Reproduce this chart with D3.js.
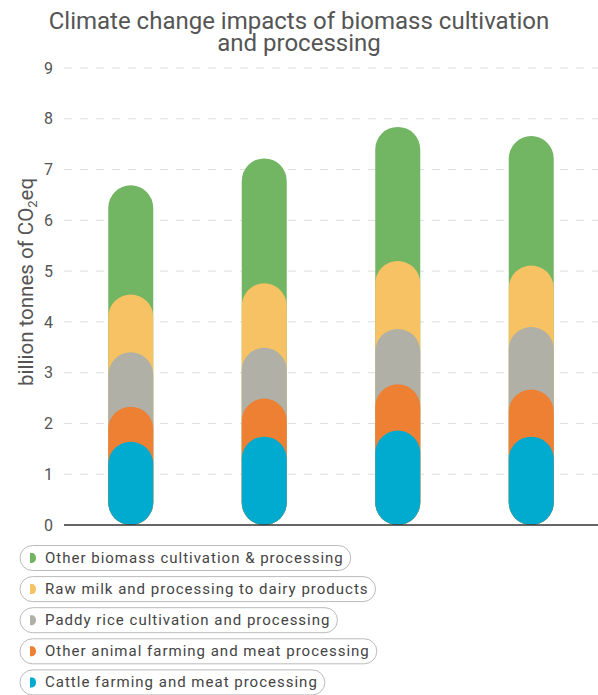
<!DOCTYPE html>
<html>
<head>
<meta charset="utf-8">
<script src="https://cdn.jsdelivr.net/npm/d3@7"></script>
<style>
  body { margin: 0; background: #fff; }
  svg { display: block; font-family: Roboto, "Noto Sans", sans-serif; }
</style>
</head>
<body>
<script>
// chart data
var categories = ["A", "B", "C", "D"];
var seriesNames = [
  "Cattle farming and meat processing",
  "Other animal farming and meat processing",
  "Paddy rice cultivation and processing",
  "Raw milk and processing to dairy products",
  "Other biomass cultivation & processing"
];
var seriesColors = ["#01aacf", "#ed8033", "#b0b0a6", "#f7c263", "#72b563"];
var cattle = [1.64, 1.74, 1.86, 1.74];
var otherAnimal = [0.69, 0.75, 0.91, 0.93];
var paddyRice = [1.07, 1.00, 1.09, 1.23];
var rawMilk = [1.14, 1.27, 1.34, 1.21];
var otherBiomass = [2.15, 2.46, 2.64, 2.55];
var yTicks = [0, 1, 2, 3, 4, 5, 6, 7, 8, 9];

var seriesValues = [cattle, otherAnimal, paddyRice, rawMilk, otherBiomass];

var width = 598, height = 695;
var plotLeft = 64, plotRight = 598, plotTop = 68, plotBottom = 525;
var barWidth = 45;

var svg = d3.select("body").append("svg")
  .attr("width", width)
  .attr("height", height);

// title
var title = svg.append("text")
  .attr("text-anchor", "middle")
  .attr("fill", "#555")
  .attr("font-size", 24);
title.append("tspan").attr("x", width / 2).attr("y", 29).text("Climate change impacts of biomass cultivation");
title.append("tspan").attr("x", width / 2).attr("y", 51).text("and processing");

var y = d3.scaleLinear().domain([0, 9]).range([plotBottom, plotTop]);
var x = d3.scaleBand().domain(categories).range([plotLeft, plotRight]);

// grid
svg.append("g").selectAll("line")
  .data(yTicks.filter(function(d) { return d > 0; }))
  .enter().append("line")
  .attr("x1", plotLeft).attr("x2", plotRight)
  .attr("y1", function(d) { return y(d); })
  .attr("y2", function(d) { return y(d); })
  .attr("stroke", "#dedede")
  .attr("stroke-width", 1)
  .attr("stroke-dasharray", "8,8");

// tick labels
var yAxis = svg.append("g")
  .attr("transform", "translate(" + plotLeft + ",0)")
  .call(d3.axisLeft(y).tickValues(yTicks).tickSize(0).tickPadding(11));
yAxis.select(".domain").remove();
yAxis.selectAll("text")
  .attr("font-family", "Roboto, sans-serif")
  .attr("font-size", 16)
  .attr("fill", "#555");

// stacked pills: each series from 0 to its cumulative top, drawn from top series down
var cum = categories.map(function() { return 0; });
var stacks = seriesValues.map(function(vals, si) {
  var tops = vals.map(function(v, i) { cum[i] += v; return cum[i]; });
  return { color: seriesColors[si], tops: tops };
});

var bars = svg.append("g");
stacks.slice().reverse().forEach(function(s) {
  bars.selectAll(null)
    .data(categories)
    .enter().append("rect")
    .attr("x", function(d) { return x(d) + x.bandwidth() / 2 - barWidth / 2; })
    .attr("width", barWidth)
    .attr("y", function(d, i) { return y(s.tops[i]); })
    .attr("height", function(d, i) { return y(0) - y(s.tops[i]); })
    .attr("rx", barWidth / 2)
    .attr("fill", s.color);
});

// baseline
svg.append("line")
  .attr("x1", plotLeft).attr("x2", plotRight)
  .attr("y1", y(0)).attr("y2", y(0))
  .attr("stroke", "#333")
  .attr("stroke-width", 1.5);

// y label
var yl = svg.append("text")
  .attr("transform", "translate(33,386) rotate(-90)")
  .attr("text-anchor", "start")
  .attr("fill", "#555")
  .attr("font-size", 20.5);
yl.append("tspan").text("billion tonnes of CO");
yl.append("tspan").attr("font-size", 13).attr("dy", 4).text("2");
yl.append("tspan").attr("dy", -4).text("eq");

// legend
var legendOrder = [4, 3, 2, 1, 0];
var legend = svg.append("g");
legendOrder.forEach(function(si, k) {
  var gy = 545.5 + k * 31.1;
  var item = legend.append("g").attr("transform", "translate(20," + gy + ")");
  var box = item.append("rect")
    .attr("height", 25)
    .attr("rx", 12.5)
    .attr("fill", "#fff")
    .attr("stroke", "#bbb")
    .attr("stroke-width", 1);
  item.append("path")
    .attr("d", "M10,7.5 h2 a4,5 0 0 1 0,10 h-2 z")
    .attr("fill", seriesColors[si]);
  var t = item.append("text")
    .attr("x", 25)
    .attr("y", 17.5)
    .attr("font-size", 15)
    .attr("letter-spacing", 1)
    .attr("fill", "#444")
    .text(seriesNames[si]);
  var w = t.node().getComputedTextLength();
  box.attr("width", 25 + w + 7);
});
</script>
</body>
</html>
